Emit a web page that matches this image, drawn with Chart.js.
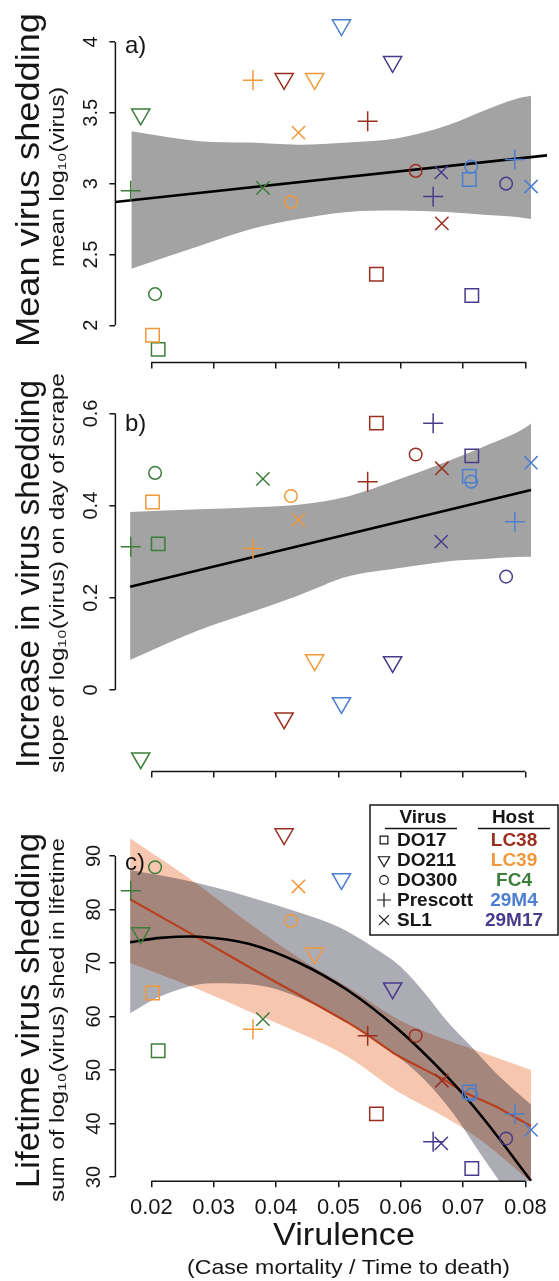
<!DOCTYPE html>
<html>
<head>
<meta charset="utf-8">
<script src="https://cdn.jsdelivr.net/npm/chart.js@4.4.1/dist/chart.umd.min.js"></script>
<style>
  html, body { margin: 0; padding: 0; background: #fff; }
  #wrap { position: relative; width: 559px; height: 1281px; }
  .panel { position: absolute; left: 0; width: 559px; }
</style>
</head>
<body>
<div id="wrap">
  <div class="panel" style="top:0;height:385px"><canvas id="chartA"></canvas></div>
  <div class="panel" style="top:360px;height:430px"><canvas id="chartB"></canvas></div>
  <div class="panel" style="top:790px;height:491px"><canvas id="chartC"></canvas></div>
</div>
<script>
// hosts and viruses
const hostNames = ['LC38', 'LC39', 'FC4', '29M4', '29M17'];
const hostColors = ['#9a2f1f', '#f0983a', '#3b7d3b', '#4d7fd0', '#4a3a8c'];
const virusNames = ['DO17', 'DO211', 'DO300', 'Prescott', 'SL1'];

// one entry per host x virus combination
const pointHost  = ['FC4','FC4','FC4','FC4','FC4', 'LC39','LC39','LC39','LC39','LC39',
                    'LC38','LC38','LC38','LC38','LC38', '29M4','29M4','29M4','29M4','29M4',
                    '29M17','29M17','29M17','29M17','29M17'];
const pointVirus = ['DO17','DO211','DO300','Prescott','SL1', 'DO17','DO211','DO300','Prescott','SL1',
                    'DO17','DO211','DO300','Prescott','SL1', 'DO17','DO211','DO300','Prescott','SL1',
                    'DO17','DO211','DO300','Prescott','SL1'];
const virulence  = [0.0211, 0.0183, 0.0206, 0.0167, 0.0379,  0.0202, 0.0462, 0.0424, 0.0363, 0.0436,
                    0.0561, 0.0413, 0.0624, 0.0547, 0.0666,  0.0710, 0.0505, 0.0713, 0.0783, 0.0809,
                    0.0714, 0.0587, 0.0769, 0.0652, 0.0665];
const meanShedding = [1.83, 3.49, 2.22, 2.95, 2.97,  1.93, 3.74, 2.87, 3.73, 3.36,
                      2.36, 3.74, 3.09, 3.44, 2.72,  3.03, 4.12, 3.12, 3.17, 2.98,
                      2.21, 3.86, 3.00, 2.91, 3.08];
const sheddingSlope = [0.317, -0.148, 0.471, 0.311, 0.458,  0.408, 0.065, 0.421, 0.307, 0.369,
                       0.579, -0.061, 0.511, 0.452, 0.481,  0.464, -0.028, 0.452, 0.365, 0.493,
                       0.508, 0.061, 0.246, 0.579, 0.322];
const lifetimeShedding = [53.6, 75.6, 87.9, 83.5, 59.5,  64.4, 71.8, 77.9, 57.6, 84.3,
                          41.8, 94.1, 56.4, 56.4, 48.0,  45.9, 85.7, 45.4, 41.8, 38.8,
                          31.6, 65.3, 37.2, 36.6, 36.3];

// axis ticks
const xTicks = [0.02, 0.03, 0.04, 0.05, 0.06, 0.07, 0.08];
const yTicksA = [2, 2.5, 3, 3.5, 4];
const yTicksB = [0, 0.2, 0.4, 0.6];
const yTicksC = [30, 40, 50, 60, 70, 80, 90];

// a) regression line and confidence band
const fitAx = [0.0142, 0.0835];
const fitAy = [2.87, 3.20];
const bandAx = [0.0168, 0.0277, 0.0356, 0.0436, 0.0515, 0.0595, 0.0674, 0.0733, 0.0786, 0.0809];
const bandAUpper = [3.37, 3.30, 3.29, 3.275, 3.29, 3.32, 3.41, 3.515, 3.60, 3.62];
const bandALower = [2.40, 2.56, 2.675, 2.75, 2.80, 2.81, 2.80, 2.78, 2.765, 2.75];

// b) regression line and confidence band
const fitBx = [0.0166, 0.0809];
const fitBy = [0.224, 0.434];
const bandBx = [0.0166, 0.0277, 0.0356, 0.0436, 0.0515, 0.0595, 0.0674, 0.0733, 0.0802, 0.0809];
const bandBUpper = [0.386, 0.392, 0.396, 0.402, 0.420, 0.456, 0.496, 0.528, 0.571, 0.579];
const bandBLower = [0.065, 0.130, 0.167, 0.205, 0.246, 0.264, 0.279, 0.284, 0.289, 0.289];

// c) quadratic fit (black) and red fit, with their bands
const fitCQuadX = [0.0166, 0.0215, 0.0277, 0.0356, 0.0436, 0.0515, 0.0595, 0.0674, 0.0733, 0.0809];
const fitCQuad  = [73.9, 74.7, 74.9, 73.6, 70.1, 64.9, 57.7, 48.8, 40.9, 29.3];
const fitCRedX  = [0.0166, 0.0277, 0.0356, 0.0436, 0.0515, 0.0546, 0.0595, 0.0666, 0.0701, 0.0754, 0.0809];
const fitCRed   = [81.9, 74.6, 69.3, 64.1, 58.9, 56.6, 52.7, 48.4, 45.9, 43.1, 39.5];
const bandCGrayUpperX = [0.0166, 0.0253, 0.0356, 0.0441, 0.0499, 0.0554, 0.0600, 0.0639, 0.0673, 0.0713, 0.0753, 0.0809];
const bandCGrayUpper  = [87.4, 85.5, 82.4, 79.3, 76.8, 73.1, 69.3, 64.3, 59.3, 54.4, 49.4, 43.5];
const bandCGrayLowerX = [0.0166, 0.0213, 0.0299, 0.0383, 0.0469, 0.0526, 0.0582, 0.0639, 0.0684, 0.0724, 0.0753, 0.0809];
const bandCGrayLower  = [60.6, 63.7, 66.2, 65.6, 61.8, 58.1, 53.7, 48.1, 41.9, 35.0, 30.1, 21.0];
const bandCRedX = [0.0166, 0.0277, 0.0356, 0.0436, 0.0515, 0.0595, 0.0674, 0.0733, 0.0809];
const bandCRedUpper = [93.3, 84.5, 77.5, 71.0, 65.5, 59.5, 55.6, 53.2, 50.0];
const bandCRedLower = [70.0, 65.0, 61.0, 57.0, 52.5, 46.0, 41.0, 36.5, 29.0];

// marker shapes per virus (R pch 0, 6, 1, 3, 4)
const virusMarkers = {
  DO17:     { pointStyle: 'rect', radius: 9.5, rotation: 0 },
  DO211:    { pointStyle: 'triangle', radius: 10.5, rotation: 180 },
  DO300:    { pointStyle: 'circle', radius: 6.3, rotation: 0 },
  Prescott: { pointStyle: 'cross', radius: 10, rotation: 0 },
  SL1:      { pointStyle: 'crossRot', radius: 9.4, rotation: 0 }
};

const FONT = "'Liberation Sans', Arial, Helvetica, 'DejaVu Sans', sans-serif";
const INK = '#161616';

const xy = (xs, ys) => xs.map((x, i) => ({ x: x, y: ys[i] }));

function pointDatasets(values) {
  return virusNames.map(v => {
    const idx = pointVirus.map((pv, i) => pv === v ? i : -1).filter(i => i >= 0);
    const m = virusMarkers[v];
    return {
      type: 'scatter',
      label: v,
      order: 0,
      data: idx.map(i => ({ x: virulence[i], y: values[i] })),
      pointStyle: m.pointStyle,
      pointRadius: m.radius,
      pointRotation: m.rotation,
      pointBorderWidth: 1.5,
      pointBackgroundColor: 'rgba(0,0,0,0)',
      pointBorderColor: idx.map(i => hostColors[hostNames.indexOf(pointHost[i])]),
      clip: false
    };
  });
}

function bandDatasets(xsUp, upper, xsLo, lower, color, order) {
  return [
    { type: 'line', band: true, data: xy(xsUp, upper), borderWidth: 0, pointRadius: 0, fill: '+1',
      backgroundColor: color, cubicInterpolationMode: 'monotone', order: order },
    { type: 'line', band: true, data: xy(xsLo, lower), borderWidth: 0, pointRadius: 0, fill: false,
      backgroundColor: color, cubicInterpolationMode: 'monotone', order: order }
  ];
}

function lineDataset(xs, ys, color, width, order, tension) {
  return { type: 'line', data: xy(xs, ys), borderColor: color, borderWidth: width,
           pointRadius: 0, fill: false, tension: tension, order: order };
}

function drawVertical(ctx, text, cx, cy, font, length) {
  ctx.save();
  ctx.font = font;
  const w = ctx.measureText(text).width;
  ctx.translate(cx, cy);
  ctx.rotate(-Math.PI / 2);
  ctx.scale(length / w, 1);
  ctx.textAlign = 'center';
  ctx.textBaseline = 'middle';
  ctx.fillStyle = INK;
  ctx.fillText(text, 0, 0);
  ctx.restore();
}

function drawHorizontal(ctx, text, cx, cy, font, length) {
  ctx.save();
  ctx.font = font;
  const w = ctx.measureText(text).width;
  ctx.translate(cx, cy);
  ctx.scale(length / w, 1);
  ctx.textAlign = 'center';
  ctx.textBaseline = 'middle';
  ctx.fillStyle = INK;
  ctx.fillText(text, 0, 0);
  ctx.restore();
}

// R-like axes: axis line only between first and last tick, titles and panel letter
const rStyle = {
  id: 'rStyle',
  afterDraw(chart, args, o) {
    const { ctx, chartArea } = chart;
    const x = chart.scales.x, y = chart.scales.y;
    ctx.save();
    ctx.strokeStyle = INK;
    ctx.lineWidth = 1.5;
    ctx.beginPath();
    ctx.moveTo(chartArea.left, y.getPixelForValue(y.ticks[0].value));
    ctx.lineTo(chartArea.left, y.getPixelForValue(y.ticks[y.ticks.length - 1].value));
    ctx.moveTo(x.getPixelForValue(x.ticks[0].value), chartArea.bottom);
    ctx.lineTo(x.getPixelForValue(x.ticks[x.ticks.length - 1].value), chartArea.bottom);
    ctx.stroke();

    ctx.fillStyle = INK;
    ctx.font = '24px ' + FONT;
    ctx.textAlign = 'left';
    ctx.textBaseline = 'middle';
    ctx.fillText(o.letter, 125, o.letterY);
    ctx.restore();

    drawVertical(ctx, o.title, 30, o.titleY, '34px ' + FONT, o.titleLen);
    drawVertical(ctx, o.subtitle, 58, o.subY, '20px ' + FONT, o.subLen);

    if (o.xTitle) {
      drawHorizontal(ctx, o.xTitle, 344, o.xTitleY, '31px ' + FONT, 142);
      drawHorizontal(ctx, o.xSubtitle, 348.5, o.xSubY, '21px ' + FONT, 323);
    }
    if (o.legend) drawLegend(ctx);
  }
};

// overlapping confidence bands in c) blend like transparent ink
const multiplyBands = {
  id: 'multiplyBands',
  beforeDatasetsDraw(chart) { chart.ctx.globalCompositeOperation = 'multiply'; },
  beforeDatasetDraw(chart, args) {
    chart.ctx.globalCompositeOperation = chart.data.datasets[args.index].band ? 'multiply' : 'source-over';
  },
  afterDatasetsDraw(chart) { chart.ctx.globalCompositeOperation = 'source-over'; }
};

function drawLegend(ctx) {
  const left = 370, top = 15, right = 558, bottom = 145;
  ctx.save();
  ctx.fillStyle = '#fff';
  ctx.fillRect(left, top, right - left, bottom - top);
  ctx.strokeStyle = INK;
  ctx.lineWidth = 1.5;
  ctx.strokeRect(left, top, right - left, bottom - top);
  ctx.font = 'bold 19px ' + FONT;
  ctx.textBaseline = 'middle';
  ctx.fillStyle = INK;
  ctx.textAlign = 'center';
  ctx.fillText('Virus', 423, 28);
  ctx.fillText('Host', 513, 28);
  ctx.beginPath();
  ctx.moveTo(385, 38.5); ctx.lineTo(457, 38.5);
  ctx.moveTo(478, 38.5); ctx.lineTo(550, 38.5);
  ctx.stroke();
  const legendMarkers = {
    DO17: { pointStyle: 'rect', radius: 5.5, rotation: 0 },
    DO211: { pointStyle: 'triangle', radius: 6.5, rotation: 180 },
    DO300: { pointStyle: 'circle', radius: 4.3, rotation: 0 },
    Prescott: { pointStyle: 'cross', radius: 7, rotation: 0 },
    SL1: { pointStyle: 'crossRot', radius: 7, rotation: 0 }
  };
  virusNames.forEach((v, i) => {
    const yy = 50 + i * 20;
    const m = legendMarkers[v];
    ctx.strokeStyle = INK;
    ctx.fillStyle = 'rgba(0,0,0,0)';
    ctx.lineWidth = 1.2;
    Chart.helpers.drawPoint(ctx, { pointStyle: m.pointStyle, radius: m.radius, rotation: m.rotation, borderWidth: 1.2 }, 384, yy);
    ctx.fillStyle = INK;
    ctx.textAlign = 'left';
    ctx.fillText(v, 397, yy + 1);
    ctx.fillStyle = hostColors[i];
    ctx.textAlign = 'center';
    ctx.fillText(hostNames[i], 514, yy + 1);
  });
  ctx.restore();
}

function makeScales(yTicks, yMin, yMax, xHeight, showX, yPad) {
  return {
    x: {
      type: 'linear', min: 0.01424, max: 0.08346,
      afterBuildTicks: s => { s.ticks = xTicks.map(v => ({ value: v })); },
      afterFit: s => { s.height = xHeight; s.paddingLeft = 0; s.paddingRight = 0; },
      border: { display: false },
      grid: { display: true, drawOnChartArea: false, drawTicks: true, tickLength: 6, color: INK, lineWidth: 1.5 },
      ticks: { display: showX, autoSkip: false, maxRotation: 0, padding: 7, color: INK,
               font: { family: FONT, size: 22 }, callback: v => String(v) }
    },
    y: {
      type: 'linear', min: yMin, max: yMax,
      afterBuildTicks: s => { s.ticks = yTicks.map(v => ({ value: v })); },
      afterFit: s => { s.width = 115.4; s.paddingTop = 0; s.paddingBottom = 0; },
      border: { display: false },
      grid: { display: true, drawOnChartArea: false, drawTicks: true, tickLength: 6, color: INK, lineWidth: 1.5 },
      ticks: { autoSkip: false, minRotation: 90, maxRotation: 90, crossAlign: 'center', padding: yPad,
               color: INK, font: { family: FONT, size: 20 }, callback: v => String(v) }
    }
  };
}

function baseOptions(scales, padTop, padBottom, plugOpts) {
  return {
    responsive: true,
    maintainAspectRatio: false,
    devicePixelRatio: 1,
    animation: false,
    events: [],
    layout: { padding: { top: padTop, right: 9.2, bottom: padBottom, left: 0 } },
    scales: scales,
    plugins: { legend: { display: false }, tooltip: { enabled: false }, rStyle: plugOpts }
  };
}

new Chart(document.getElementById('chartA'), {
  type: 'scatter',
  data: {
    datasets: [
      ...pointDatasets(meanShedding),
      lineDataset(fitAx, fitAy, '#000', 2.6, 1, 0),
      ...bandDatasets(bandAx, bandAUpper, bandAx, bandALower, '#a3a3a3', 2)
    ]
  },
  options: baseOptions(makeScales(yTicksA, 1.738, 4.212, 15, false, 4), 0, 7.6, {
    letter: 'a)', letterY: 46,
    title: 'Mean virus shedding', titleY: 180, titleLen: 334,
    subtitle: 'mean log\u2081\u2080(virus)', subY: 177, subLen: 180
  }),
  plugins: [rStyle]
});

new Chart(document.getElementById('chartB'), {
  type: 'scatter',
  data: {
    datasets: [
      ...pointDatasets(sheddingSlope),
      lineDataset(fitBx, fitBy, '#000', 2.6, 1, 0),
      ...bandDatasets(bandBx, bandBUpper, bandBx, bandBLower, '#a3a3a3', 2)
    ]
  },
  options: baseOptions(makeScales(yTicksB, -0.177, 0.609, 15, false, 4), 49.3, 3.4, {
    letter: 'b)', letterY: 64,
    title: 'Increase in virus shedding', titleY: 214, titleLen: 388,
    subtitle: 'slope of log\u2081\u2080(virus) on day of scrape', subY: 213, subLen: 400
  }),
  plugins: [rStyle]
});

new Chart(document.getElementById('chartC'), {
  type: 'scatter',
  data: {
    datasets: [
      ...pointDatasets(lifetimeShedding),
      lineDataset(fitCQuadX, fitCQuad, '#000', 2.6, 1, 0.3),
      lineDataset(fitCRedX, fitCRed, '#b8401f', 2.2, 1, 0.2),
      ...bandDatasets(bandCRedX, bandCRedUpper, bandCRedX, bandCRedLower, '#f7c6af', 2),
      ...bandDatasets(bandCGrayUpperX, bandCGrayUpper, bandCGrayLowerX, bandCGrayLower, '#abacb4', 3)
    ]
  },
  options: baseOptions(makeScales(yTicksC, 29.2, 96.8, 99.7, true, 4), 29.6, 0, {
    letter: 'c)', letterY: 73,
    title: 'Lifetime virus shedding', titleY: 220.5, titleLen: 355,
    subtitle: 'sum of log\u2081\u2080(virus) shed in lifetime', subY: 230, subLen: 364,
    xTitle: 'Virulence', xTitleY: 446,
    xSubtitle: '(Case mortality / Time to death)', xSubY: 478,
    legend: true
  }),
  plugins: [multiplyBands, rStyle]
});
</script>
</body>
</html>
